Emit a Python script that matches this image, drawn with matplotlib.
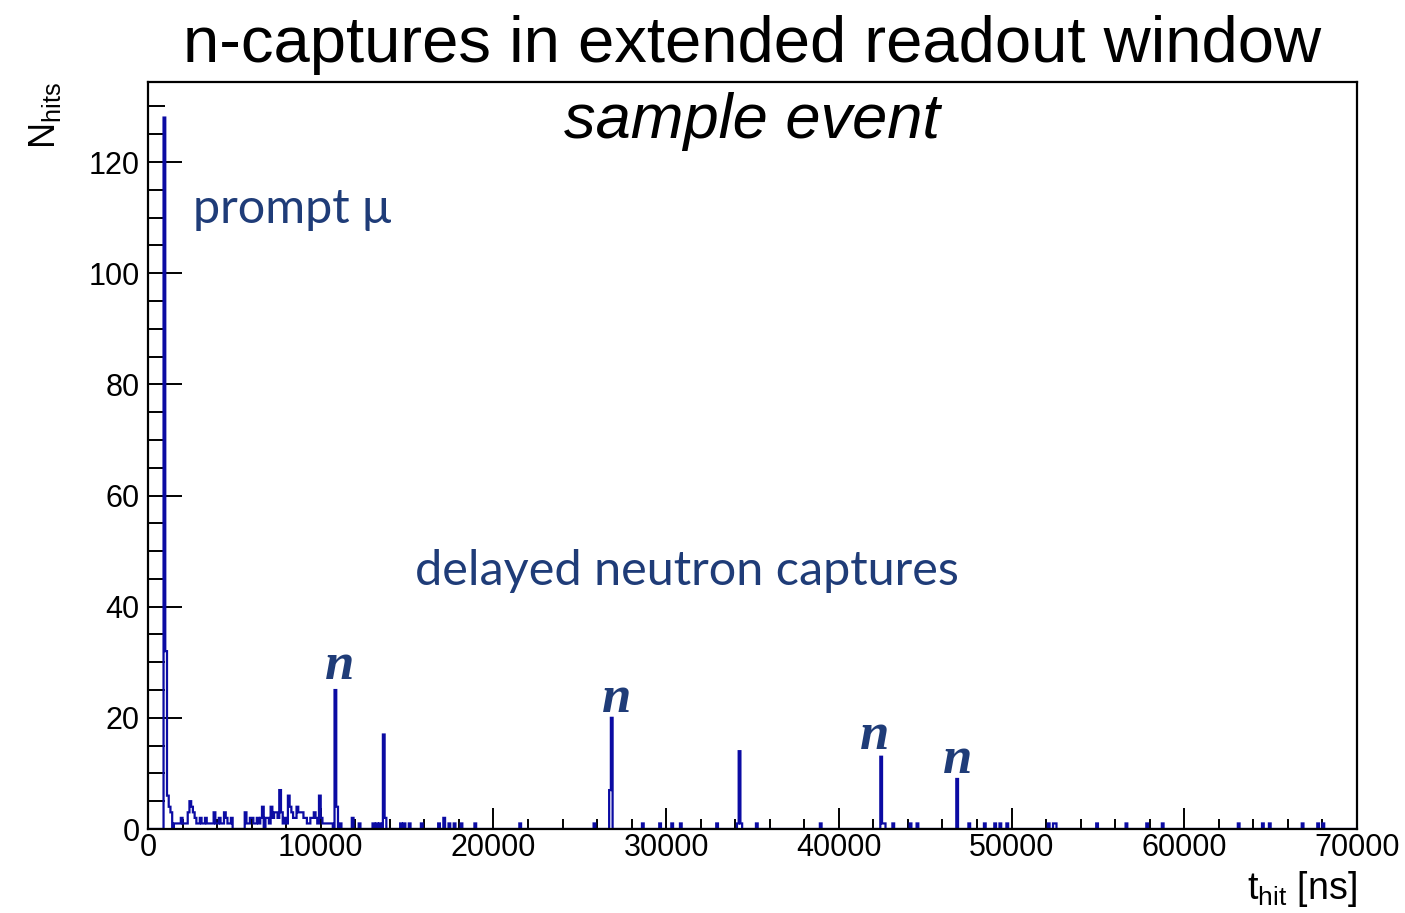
import numpy as np
import matplotlib
matplotlib.use("Agg")
import matplotlib.pyplot as plt
from matplotlib.ticker import MultipleLocator

# histogram: 100 ns bins from 0 to 70000 ns, only non-empty bins listed
BIN_WIDTH = 100
T_MAX = 70000
bin_start = [900, 1000, 1100, 1200, 1300, 1500, 1600, 1700, 1800, 1900,
             2000, 2100, 2200, 2300, 2400, 2500, 2600, 2700, 2800, 2900,
             3000, 3100, 3200, 3300, 3400, 3500, 3600, 3700, 3800, 3900,
             4000, 4100, 4200, 4300, 4400, 4500, 4600, 4700, 4800, 5600,
             5700, 5800, 5900, 6000, 6100, 6200, 6300, 6400, 6500, 6600,
             6800, 6900, 7000, 7100, 7200, 7300, 7400, 7500, 7600, 7700,
             7800, 7900, 8000, 8100, 8200, 8300, 8400, 8500, 8600, 8700,
             8800, 8900, 9000, 9100, 9200, 9300, 9400, 9500, 9600, 9700,
             9800, 9900, 10000, 10100, 10200, 10300, 10400, 10500, 10600, 10800,
             10900, 11100, 11800, 12200, 13000, 13200, 13400, 13600, 13700, 14600,
             14800, 15100, 15800, 16800, 17100, 17400, 17700, 18100, 18900, 21500,
             25800, 26700, 26800, 28600, 29600, 30300, 30800, 32900, 34100, 34200,
             34300, 35200, 38900, 42400, 42500, 42600, 43100, 44100, 44500, 46800,
             47500, 48400, 49000, 49300, 49700, 52100, 52400, 52500, 54900, 56600,
             57800, 58700, 63100, 64500, 64900, 66800, 67700, 68000]
bin_count = [128, 32, 6, 4, 3, 1, 1, 1, 1, 2,
             1, 1, 1, 3, 5, 4, 3, 2, 1, 1,
             2, 1, 1, 2, 1, 1, 1, 1, 3, 1,
             1, 2, 1, 1, 3, 2, 1, 1, 2, 3,
             1, 1, 2, 2, 1, 1, 2, 1, 2, 4,
             2, 2, 1, 4, 2, 3, 3, 2, 7, 3,
             1, 2, 1, 6, 4, 3, 2, 2, 4, 3,
             3, 3, 2, 2, 1, 1, 2, 2, 3, 2,
             1, 6, 2, 1, 1, 1, 1, 1, 1, 25,
             4, 1, 2, 1, 1, 1, 1, 17, 2, 1,
             1, 1, 1, 1, 2, 1, 1, 1, 1, 1,
             1, 7, 20, 1, 1, 1, 1, 1, 1, 14,
             1, 1, 1, 13, 1, 1, 1, 1, 1, 9,
             1, 1, 1, 1, 1, 1, 1, 1, 1, 1,
             1, 1, 1, 1, 1, 1, 1, 1]

# bins marked as neutron captures
n_capture_times = [10800, 26800, 42400, 46800]
# small nudges of the "n" labels, in pixels (dx, dy)
n_label_nudge = [(4, 5), (5, 0), (-7, 2), (0, 0)]

edges = np.arange(0, T_MAX + BIN_WIDTH, BIN_WIDTH)
counts = np.zeros(len(edges) - 1)
for t, c in zip(bin_start, bin_count):
    counts[t // BIN_WIDTH] = c

hist_col = "#0b0ba3"
note_col = "#1f3c78"

fig = plt.figure(figsize=(14.05, 9.13), dpi=100)
ax = fig.add_axes([148/1405, 84/913, 1209/1405, 747/913])

ax.stairs(counts, edges, color=hist_col, lw=1.6, zorder=2)

ax.set_xlim(0, T_MAX)
ax.set_ylim(0, 134.4)
ax.xaxis.set_major_locator(MultipleLocator(10000))
ax.xaxis.set_minor_locator(MultipleLocator(2000))
ax.yaxis.set_major_locator(MultipleLocator(20))
ax.yaxis.set_minor_locator(MultipleLocator(5))
ax.tick_params(axis="x", which="major", direction="in", length=15, width=1.4,
               labelsize=22, pad=3)
ax.tick_params(axis="x", which="minor", direction="in", length=7, width=1.4)
ax.tick_params(axis="y", which="major", direction="in", length=24.5, width=1.4,
               labelsize=22, pad=6)
ax.tick_params(axis="y", which="minor", direction="in", length=12, width=1.4)
for lbl in ax.get_xticklabels() + ax.get_yticklabels():
    lbl.set_family("Liberation Sans")
for s in ax.spines.values():
    s.set_linewidth(1.6)
    s.set_zorder(3)

ax.set_xlabel(r"$\mathregular{t_{hit}}$ [ns]", fontsize=27, family="Liberation Sans",
              loc="right", labelpad=4)
ax.set_ylabel(r"$\mathregular{N_{hits}}$", fontsize=26, family="Liberation Sans",
              loc="top", labelpad=18)

fig.text(0.5356, 0.951, "n-captures in extended readout window", fontsize=47,
         family="Liberation Sans", ha="center", va="center")
ax.text(0.5, 0.986, "sample event", transform=ax.transAxes, fontsize=45.5,
        family="Liberation Sans", style="italic", ha="center", va="top")

ax.text(0.037, 0.83, "prompt \u03bc", transform=ax.transAxes, fontsize=35,
        family="Lato", color=note_col, ha="left", va="center")
ax.text(0.2207, 0.345, "delayed neutron captures", transform=ax.transAxes,
        fontsize=35, family="Lato", color=note_col, ha="left", va="center")

for t, (dx, dy) in zip(n_capture_times, n_label_nudge):
    c = counts[t // BIN_WIDTH]
    ax.annotate("n", (t + BIN_WIDTH / 2, c + 1.0), xytext=(dx * 0.72, dy * 0.72),
                textcoords="offset points", fontsize=38, family="Liberation Serif",
                style="italic", weight="bold", color=note_col,
                ha="center", va="baseline")

fig.savefig("out.png", dpi=100)
